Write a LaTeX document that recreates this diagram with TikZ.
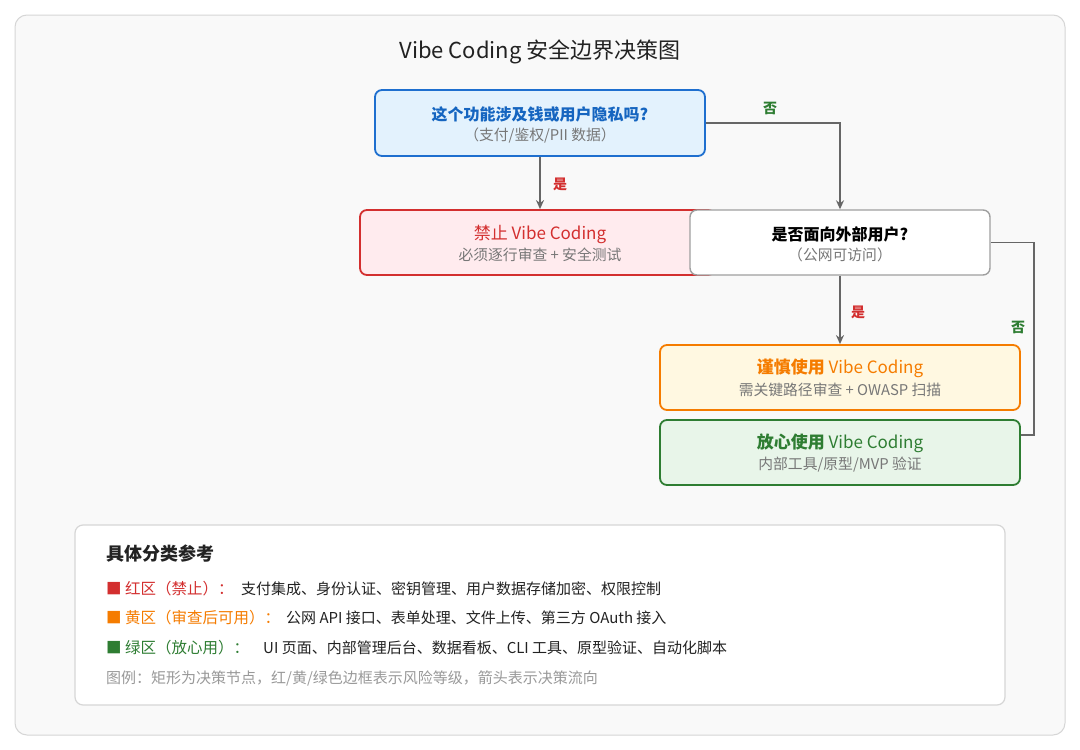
\documentclass[tikz,border=0pt]{standalone}
\usepackage{fontspec}
\setmainfont{Noto Sans CJK SC}
\usetikzlibrary{arrows.meta}
\definecolor{qblue}{HTML}{1E6FCF}
\definecolor{qbluefill}{HTML}{E3F2FD}
\definecolor{qblueText}{HTML}{1565C0}
\definecolor{rred}{HTML}{D32F2F}
\definecolor{rredfill}{HTML}{FFEBEE}
\definecolor{oorange}{HTML}{F57C00}
\definecolor{oorangefill}{HTML}{FFF8E1}
\definecolor{ggreen}{HTML}{2E7D32}
\definecolor{ggreenfill}{HTML}{E8F5E9}
\definecolor{subgray}{HTML}{777777}
\definecolor{linegray}{HTML}{666666}
\definecolor{framegray}{HTML}{D6D6D6}
\definecolor{framefill}{HTML}{F9F9F9}
\definecolor{darktext}{HTML}{222222}
\begin{document}
\begin{tikzpicture}[x=1pt,y=-1pt,
  box/.style={rectangle, rounded corners=7pt, line width=1.8pt, inner sep=0pt},
  maintext/.style={font=\fontsize{17}{19}\selectfont, inner sep=0pt},
  subtext/.style={font=\fontsize{14.8}{16}\selectfont, text=subgray, inner sep=0pt},
  arr/.style={draw=linegray, line width=1.6pt, -{Stealth[length=9pt,width=8pt]}},
  plainline/.style={draw=linegray, line width=1.6pt},
  lbl/.style={font=\bfseries\fontsize{14}{16}\selectfont, inner sep=0pt},
  legtext/.style={font=\fontsize{15}{17}\selectfont, anchor=west, inner sep=0pt, text=darktext},
  leghead/.style={font=\fontsize{15.5}{17}\selectfont, anchor=west, inner sep=0pt}
]
\useasboundingbox (0,0) rectangle (1080,750);
\fill[white] (0,0) rectangle (1080,750);
\draw[framegray, fill=framefill, line width=1pt, rounded corners=12pt] (15,15) rectangle (1065,735);

\node[font=\fontsize{22}{25}\selectfont, text=darktext, inner sep=0pt] (title) at (540,52) {Vibe Coding 安全边界决策图};

% Question 1
\node[box, draw=qblue, fill=qbluefill, minimum width=330pt, minimum height=66pt] (q1) at (540,123) {};
\node[maintext, text=qblueText, font=\bfseries\fontsize{16}{18}\selectfont] (q1a) at (540,114) {这个功能涉及钱或用户隐私吗?};
\node[subtext] (q1b) at (540,135) {（支付/鉴权/PII 数据）};

% Red
\node[box, draw=rred, fill=rredfill, minimum width=355pt, minimum height=65pt] (red) at (537.5,242.5) {};
\node[maintext, text=rred] (reda) at (540,234) {禁止 Vibe Coding};
\node[subtext] (redb) at (540,255) {必须逐行审查 + 安全测试};

% Question 2
\node[box, draw=gray!75, line width=1.4pt, fill=white, minimum width=300pt, minimum height=65pt] (q2) at (840,242.5) {};
\node[maintext, text=black, font=\bfseries\fontsize{16}{18}\selectfont] (q2a) at (840,234) {是否面向外部用户?};
\node[subtext] (q2b) at (840,255) {（公网可访问）};

% Orange
\node[box, draw=oorange, fill=oorangefill, minimum width=360pt, minimum height=65pt] (ora) at (840,377.5) {};
\node[maintext, text=oorange] (oraa) at (840,368) {\textbf{谨慎使用} Vibe Coding};
\node[subtext] (orab) at (840,390) {需关键路径审查 + OWASP 扫描};

% Green
\node[box, draw=ggreen, fill=ggreenfill, minimum width=360pt, minimum height=65pt] (grn) at (840,452.5) {};
\node[maintext, text=ggreen] (grna) at (840,443) {\textbf{放心使用} Vibe Coding};
\node[subtext] (grnb) at (840,465) {内部工具/原型/MVP 验证};

% Connectors
\draw[arr] (q1.south) -- (q1.south |- red.north);
\draw[arr] (q1.east) -| (q2.north);
\draw[arr] (q2.south) -- (ora.north);
\coordinate (q2out) at ([xshift=43pt]q2.east);
\coordinate (gin) at ([yshift=17.5pt]grn.east);
\draw[plainline] (q2.east) -- (q2out) |- (gin);

\node[lbl, text=rred] (y1) at (560,184) {是};
\node[lbl, text=ggreen] (n1) at (770,108) {否};
\node[lbl, text=rred] (y2) at (858,312) {是};
\node[lbl, text=ggreen] (n2) at (1018,327) {否};

% Legend
\draw[framegray, line width=1.2pt, fill=white, rounded corners=8pt] (75,525) rectangle (1005,705);
\node[font=\bfseries\fontsize{18}{20}\selectfont, text=darktext, anchor=west, inner sep=0pt] (lh) at (106,554) {具体分类参考};
\node[leghead, text=rred] (l1h) at (106,589) {■ 红区（禁止）：};
\node[legtext] (l1t) at (241,589) {支付集成、身份认证、密钥管理、用户数据存储加密、权限控制};
\node[leghead, text=oorange] (l2h) at (106,618) {■ 黄区（审查后可用）：};
\node[legtext] (l2t) at (286,618) {公网 API 接口、表单处理、文件上传、第三方 OAuth 接入};
\node[leghead, text=ggreen] (l3h) at (106,648) {■ 绿区（放心用）：};
\node[legtext] (l3t) at (263,648) {UI 页面、内部管理后台、数据看板、CLI 工具、原型验证、自动化脚本};
\node[font=\fontsize{15}{17}\selectfont, text=gray!80, anchor=west, inner sep=0pt] (note) at (106,678) {图例：矩形为决策节点，红/黄/绿色边框表示风险等级，箭头表示决策流向};
\end{tikzpicture}
\end{document}
